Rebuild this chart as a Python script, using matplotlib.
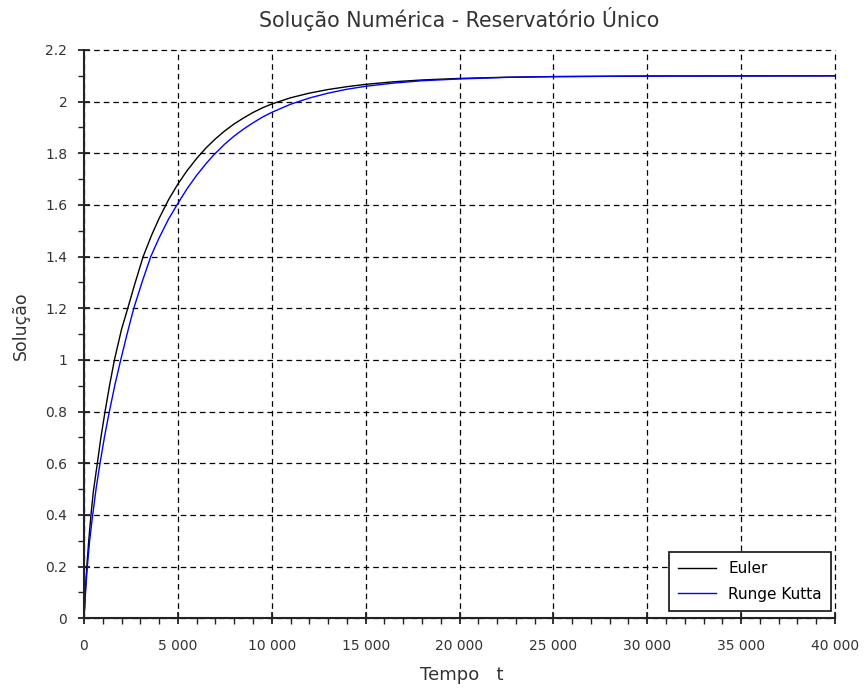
import matplotlib
matplotlib.use("Agg")
import matplotlib.pyplot as plt
from matplotlib.ticker import FuncFormatter, MultipleLocator

plt.rcParams['font.family'] = ['DejaVu Sans']

t_euler = [0, 100, 150, 250, 370, 500, 710, 900, 1120, 1370, 1620, 2000, 2330,
           2700, 3150, 3600, 4000, 4500, 5000, 5500, 6000, 6500, 7000, 7500, 8000,
           8500, 9000, 9500, 10000, 11000, 12000, 13000, 14000, 15000, 16500,
           18000, 20000, 22500, 25000, 30000, 40000]
y_euler = [0, 0.142, 0.2, 0.298, 0.4, 0.492, 0.6, 0.70, 0.8, 0.905, 1.0, 1.119, 1.2,
           1.293, 1.4, 1.483, 1.548, 1.62, 1.681, 1.734, 1.78, 1.821, 1.856, 1.887,
           1.914, 1.937, 1.958, 1.976, 1.991, 2.015, 2.033, 2.047, 2.058, 2.067,
           2.077, 2.084, 2.090, 2.0946, 2.097, 2.0993, 2.1]

t_rk = [0, 100, 178, 300, 462, 650, 853, 1100, 1350, 1650, 1955, 2300, 2650, 3100,
        3555, 4000, 4500, 5000, 5500, 6000, 6500, 6900, 7500, 8000, 8500, 9000,
        9500, 10000, 11000, 12000, 13000, 14000, 15000, 16500, 18000, 20000, 22500,
        25000, 30000, 40000]
y_rk = [0, 0.122, 0.2, 0.30, 0.4, 0.505, 0.6, 0.706, 0.8, 0.905, 1.0, 1.102, 1.2,
        1.303, 1.4, 1.4725, 1.545, 1.606, 1.664, 1.715, 1.76, 1.793, 1.836, 1.867,
        1.894, 1.918, 1.94, 1.9585, 1.990, 2.014, 2.033, 2.048, 2.0595, 2.072,
        2.081, 2.088, 2.094, 2.097, 2.099, 2.1]

title = "Solução Numérica - Reservatório Único"
xlabel = "Tempo   t"
ylabel = "Solução"
labels = ["Euler", "Runge Kutta"]

W, H = 866, 689
AX_L, AX_R, AX_T, AX_B = 84, 835, 50, 618.3

fig = plt.figure(figsize=(W / 100, H / 100), dpi=100)
ax = fig.add_axes([AX_L / W, 1 - AX_B / H, (AX_R - AX_L) / W, (AX_B - AX_T) / H])

ax.plot(t_euler, y_euler, color='black', lw=1.0, label=labels[0])
ax.plot(t_rk, y_rk, color='#0000ff', lw=1.0, label=labels[1])

ax.set_xlim(0, 40000)
ax.set_ylim(0, 2.2)
ax.xaxis.set_major_locator(MultipleLocator(5000))
ax.xaxis.set_minor_locator(MultipleLocator(1000))
ax.yaxis.set_major_locator(MultipleLocator(0.2))
ax.yaxis.set_minor_locator(MultipleLocator(0.1))


def xfmt(v, pos):
    return f"{int(round(v)):,}".replace(",", " ")


def yfmt(v, pos):
    s = f"{v:.1f}"
    if s.endswith(".0"):
        s = s[:-2]
    return s


ax.xaxis.set_major_formatter(FuncFormatter(xfmt))
ax.yaxis.set_major_formatter(FuncFormatter(yfmt))

for sp in ['top', 'right']:
    ax.spines[sp].set_visible(False)
for sp in ['left', 'bottom']:
    ax.spines[sp].set_linewidth(1.5)
    ax.spines[sp].set_color('#222222')

ax.tick_params(which='major', direction='inout', length=8, width=1.3, labelsize=10,
               colors='#222222', labelcolor='#333333')
ax.tick_params(which='minor', direction='out', length=4, width=1.0, colors='#222222')
ax.tick_params(axis='x', which='major', pad=11)
ax.tick_params(axis='y', which='major', pad=8)

ax.grid(True, which='major', color='black', linestyle=(0, (4.5, 3.2)), linewidth=0.9)
for gl in ax.get_xgridlines() + ax.get_ygridlines():
    gl.set_clip_on(False)
ax.set_axisbelow(True)

ax.set_title(title, fontsize=14.8, color='#333333', pad=16.5)
ax.set_xlabel(xlabel, fontsize=13, color='#333333')
ax.set_ylabel(ylabel, fontsize=12.5, color='#333333')
ax.xaxis.set_label_coords((461.5 - AX_L) / (AX_R - AX_L), -(666.5 - AX_B) / (AX_B - AX_T))
ax.yaxis.set_label_coords(-(AX_L - 30) / (AX_R - AX_L), (AX_B - 326) / (AX_B - AX_T))

leg = ax.legend(loc='lower right', fontsize=11, frameon=True, fancybox=False,
                edgecolor='#111111', handlelength=2.5, handletextpad=0.8,
                borderpad=0.6, labelspacing=0.68, borderaxespad=0,
                bbox_to_anchor=((831 - AX_L) / (AX_R - AX_L), (AX_B - 611) / (AX_B - AX_T)))
leg.get_frame().set_linewidth(1.2)
leg.get_frame().set_alpha(1)

fig.savefig("out.png", dpi=100)
